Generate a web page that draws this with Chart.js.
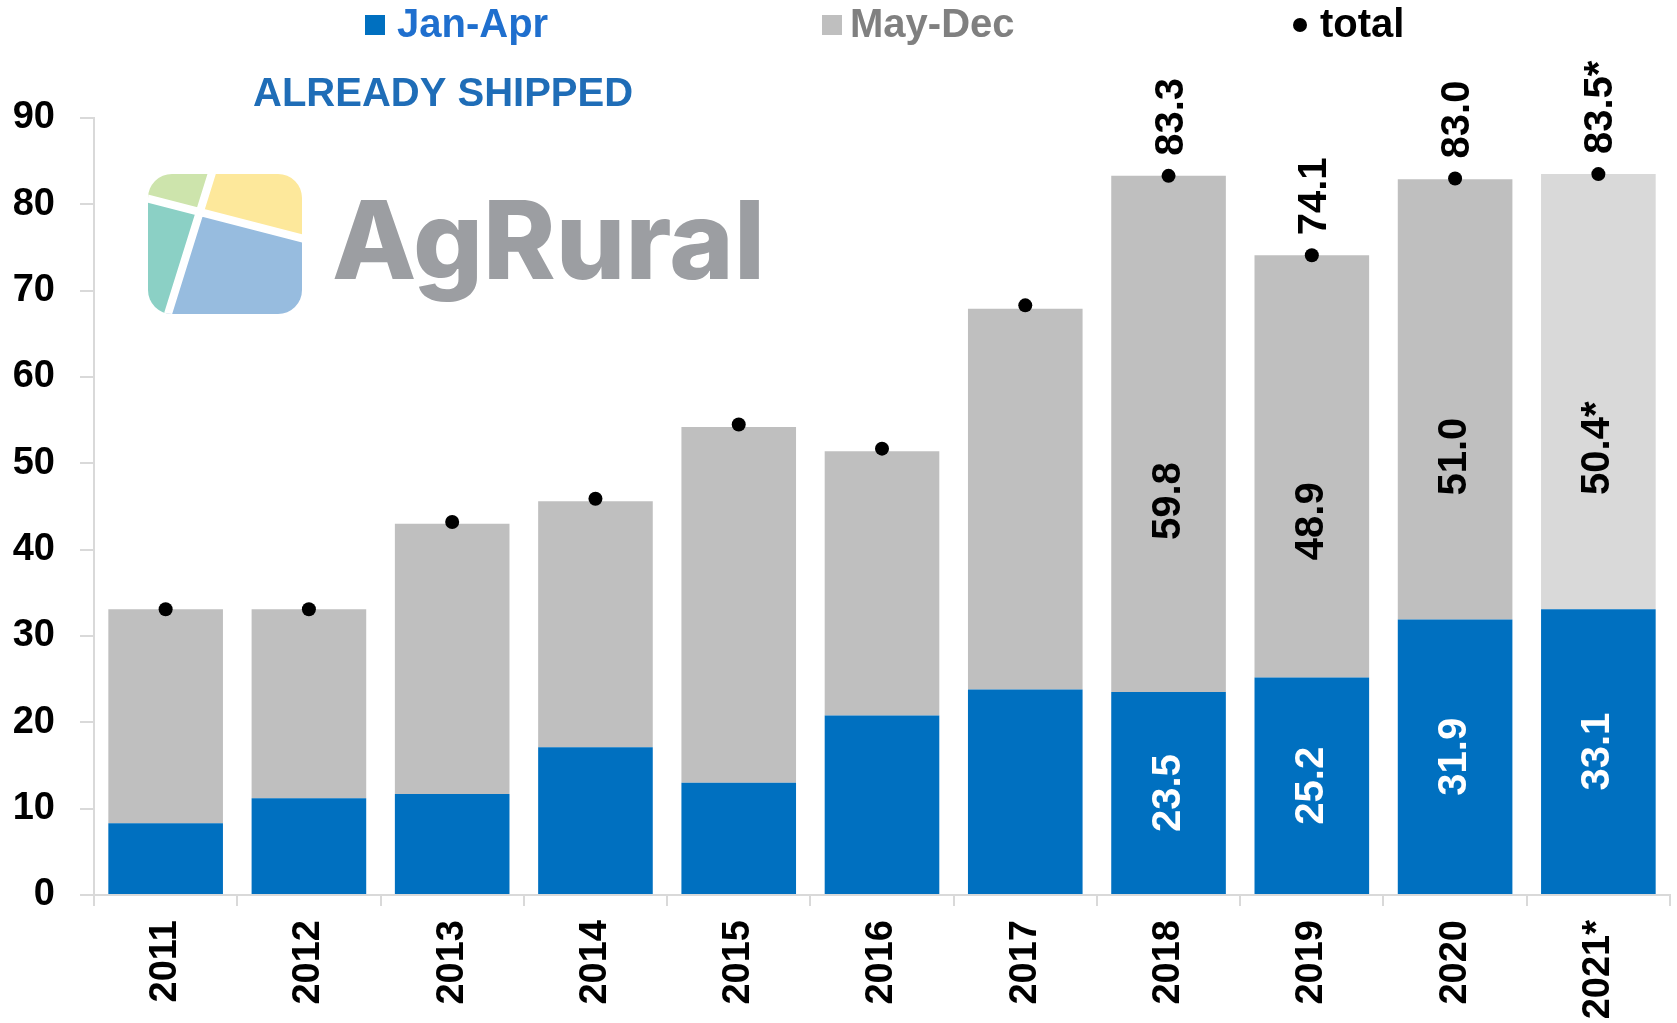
<!DOCTYPE html>
<html>
<head>
<meta charset="utf-8">
<script src="https://cdn.jsdelivr.net/npm/chart.js@4.4.1/dist/chart.umd.min.js"></script>
<style>
  html, body { margin: 0; padding: 0; background: #ffffff; }
  #wrap { width: 1677px; height: 1023px; position: relative; }
  canvas { display: block; }
</style>
</head>
<body>
<div id="wrap"><canvas id="c" width="1677" height="1023"></canvas></div>
<script>
// ---- data ----
const categories = ['2011', '2012', '2013', '2014', '2015', '2016', '2017', '2018', '2019', '2020', '2021*'];
const janApr = [8.3, 11.2, 11.7, 17.1, 13.0, 20.8, 23.8, 23.5, 25.2, 31.9, 33.1];
const mayDec = [24.8, 21.9, 31.3, 28.5, 41.2, 30.6, 44.1, 59.8, 48.9, 51.0, 50.4];
const totals = [33.1, 33.1, 43.2, 45.9, 54.5, 51.7, 68.3, 83.3, 74.1, 83.0, 83.5];
const janAprLabels = [null, null, null, null, null, null, null, '23.5', '25.2', '31.9', '33.1'];
const mayDecLabels = [null, null, null, null, null, null, null, '59.8', '48.9', '51.0', '50.4*'];
const totalLabels = [null, null, null, null, null, null, null, '83.3', '74.1', '83.0', '83.5*'];
const yTicks = [0, 10, 20, 30, 40, 50, 60, 70, 80, 90];
const legendNames = ['Jan-Apr', 'May-Dec', 'total'];
const noteText = 'ALREADY SHIPPED';
const logoText = 'AgRural';

const FONT = '"Liberation Sans", Arial, Helvetica, sans-serif';
const BLUE = '#0070c0';
const GREY = '#bfbfbf';
const GREY_LIGHT = '#d9d9d9';

function rotText(ctx, text, x, y, align, color) {
  ctx.save();
  ctx.translate(x, y);
  ctx.rotate(-Math.PI / 2);
  ctx.textAlign = align;
  ctx.textBaseline = 'middle';
  ctx.fillStyle = color;
  ctx.fillText(text, 0, 0);
  ctx.restore();
}

function roundRectPath(ctx, x, y, w, h, r) {
  ctx.beginPath();
  ctx.moveTo(x + r, y);
  ctx.lineTo(x + w - r, y);
  ctx.arcTo(x + w, y, x + w, y + r, r);
  ctx.lineTo(x + w, y + h - r);
  ctx.arcTo(x + w, y + h, x + w - r, y + h, r);
  ctx.lineTo(x + r, y + h);
  ctx.arcTo(x, y + h, x, y + h - r, r);
  ctx.lineTo(x, y + r);
  ctx.arcTo(x, y, x + r, y, r);
  ctx.closePath();
}

function poly(ctx, pts, color) {
  ctx.beginPath();
  ctx.moveTo(pts[0][0], pts[0][1]);
  for (let i = 1; i < pts.length; i++) ctx.lineTo(pts[i][0], pts[i][1]);
  ctx.closePath();
  ctx.fillStyle = color;
  ctx.fill();
}

const decorPlugin = {
  id: 'decor',
  beforeDraw(chart) {
    const ctx = chart.ctx;
    ctx.save();
    ctx.fillStyle = '#ffffff';
    ctx.fillRect(0, 0, chart.width, chart.height);

    // legend
    ctx.font = 'bold 40px ' + FONT;
    ctx.textBaseline = 'alphabetic';
    ctx.textAlign = 'left';
    ctx.fillStyle = BLUE;
    ctx.fillRect(365, 15, 20, 20);
    ctx.fillStyle = '#1f6fce';
    ctx.fillText(legendNames[0], 397, 37);
    ctx.fillStyle = GREY;
    ctx.fillRect(822, 15, 20, 20);
    ctx.fillStyle = '#808080';
    ctx.fillText(legendNames[1], 850, 37);
    ctx.fillStyle = '#000000';
    ctx.beginPath();
    ctx.arc(1300, 25, 7, 0, Math.PI * 2);
    ctx.fill();
    ctx.fillText(legendNames[2], 1320, 37);

    // note
    ctx.fillStyle = '#1f6db7';
    ctx.font = 'bold 40px ' + FONT;
    ctx.fillText(noteText, 253, 106);

    // logo icon
    ctx.save();
    roundRectPath(ctx, 148, 174, 154, 140, 24);
    ctx.clip();
    poly(ctx, [[140, 165], [214, 165], [200, 212], [140, 197]], '#cde4ac');
    poly(ctx, [[214, 165], [310, 165], [310, 240], [200, 212]], '#fde89b');
    poly(ctx, [[140, 197], [200, 212], [165, 320], [140, 320]], '#8bd0c5');
    poly(ctx, [[200, 212], [310, 240], [310, 320], [165, 320]], '#97bcdf');
    ctx.strokeStyle = '#ffffff';
    ctx.lineWidth = 8;
    ctx.lineCap = 'round';
    ctx.beginPath();
    ctx.moveTo(216, 160); ctx.lineTo(163, 330);
    ctx.moveTo(130, 194); ctx.lineTo(320, 243);
    ctx.stroke();
    ctx.restore();

    // logo text
    ctx.save();
    ctx.font = '800 108px Inter, "Open Sans", sans-serif';
    const w = ctx.measureText(logoText).width;
    ctx.translate(332, 279);
    ctx.scale(433 / w, 1);
    ctx.fillStyle = '#9c9ea2';
    ctx.textAlign = 'left';
    ctx.textBaseline = 'alphabetic';
    ctx.fillText(logoText, 0, 0);
    ctx.restore();

    ctx.restore();
  },
  afterDatasetsDraw(chart) {
    const ctx = chart.ctx;
    const m0 = chart.getDatasetMeta(0);
    const m1 = chart.getDatasetMeta(1);
    const m2 = chart.getDatasetMeta(2);
    ctx.save();
    ctx.font = 'bold 40px ' + FONT;
    for (let i = 0; i < categories.length; i++) {
      if (janAprLabels[i]) {
        const el = m0.data[i];
        rotText(ctx, janAprLabels[i], el.x, (el.y + el.base) / 2, 'center', '#ffffff');
      }
      if (mayDecLabels[i]) {
        const el = m1.data[i];
        rotText(ctx, mayDecLabels[i], el.x, el.base + (el.y - el.base) * 0.37, 'center', '#000000');
      }
      if (totalLabels[i]) {
        const el = m2.data[i];
        rotText(ctx, totalLabels[i], el.x + 3, el.y - 20, 'left', '#000000');
      }
    }
    ctx.restore();
  }
};

new Chart(document.getElementById('c'), {
  type: 'bar',
  data: {
    labels: categories,
    datasets: [
      {
        label: legendNames[0],
        data: janApr,
        backgroundColor: BLUE,
        stack: 'bars',
        order: 2,
        barPercentage: 0.8,
        categoryPercentage: 1.0
      },
      {
        label: legendNames[1],
        data: mayDec,
        backgroundColor: (c) => c.dataIndex === categories.length - 1 ? GREY_LIGHT : GREY,
        stack: 'bars',
        order: 2,
        barPercentage: 0.8,
        categoryPercentage: 1.0
      },
      {
        type: 'line',
        label: legendNames[2],
        data: totals,
        stack: 'line',
        showLine: false,
        order: 0,
        pointRadius: 7,
        pointBackgroundColor: '#000000',
        pointBorderWidth: 0,
        borderColor: '#000000'
      }
    ]
  },
  options: {
    responsive: false,
    animation: false,
    devicePixelRatio: 1,
    layout: { padding: { top: 118, right: 2, left: 0, bottom: 0 } },
    plugins: {
      legend: { display: false },
      tooltip: { enabled: false }
    },
    scales: {
      x: {
        stacked: true,
        afterFit: (s) => { s.height = 128; },
        grid: {
          drawOnChartArea: false,
          drawTicks: true,
          tickLength: 11,
          color: '#d9d9d9',
          lineWidth: 2
        },
        border: { color: '#d9d9d9', width: 2 },
        ticks: {
          color: '#000000',
          font: { family: FONT, size: 38, weight: 'bold' },
          minRotation: 90,
          maxRotation: 90,
          padding: 14,
          autoSkip: false
        }
      },
      y: {
        stacked: true,
        min: 0,
        max: 90,
        afterFit: (s) => { s.width = 94; },
        afterBuildTicks: (s) => { s.ticks = yTicks.map(v => ({ value: v })); },
        grid: {
          drawOnChartArea: false,
          drawTicks: true,
          tickLength: 14,
          color: '#d9d9d9',
          lineWidth: 2
        },
        border: { color: '#d9d9d9', width: 2 },
        ticks: {
          color: '#000000',
          font: { family: FONT, size: 38, weight: 'bold' },
          padding: 25
        }
      }
    }
  },
  plugins: [decorPlugin]
});
</script>
</body>
</html>
